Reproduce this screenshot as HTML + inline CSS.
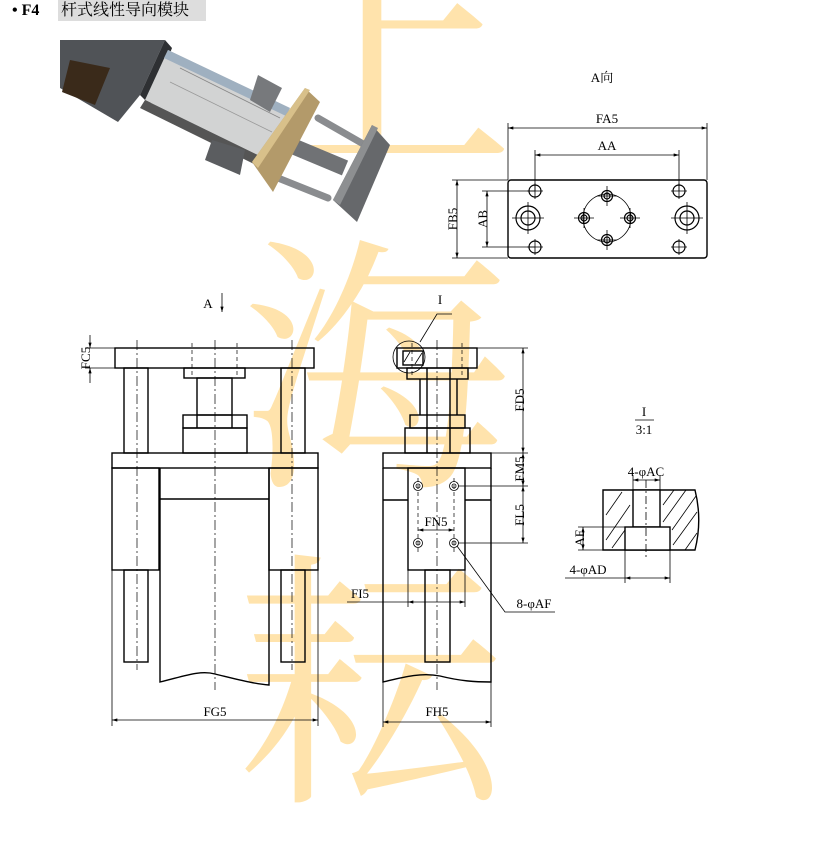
<!DOCTYPE html>
<html><head><meta charset="utf-8"><style>
html,body{margin:0;padding:0;background:#fff;width:836px;height:739px;overflow:hidden}
svg{position:absolute;left:0;top:0}
.wm{position:absolute;font-family:"Noto Serif CJK SC",serif;font-size:270px;line-height:270px;color:#ffdd98;opacity:.8}
</style></head><body>
<div class="wm" style="left:245px;top:-105px">上</div>
<div class="wm" style="left:240px;top:215px">海</div>
<div class="wm" style="left:235px;top:530px">耘</div>
<svg width="836" height="739" viewBox="0 0 836 739" font-family="Liberation Serif, 'Noto Serif CJK SC', serif">
<defs>
<marker id="a" viewBox="0 0 10 6" refX="10" refY="3" markerWidth="8" markerHeight="4" orient="auto-start-reverse"><path d="M0 0 L10 3 L0 6 Z" fill="#000"/></marker>
</defs>
<rect x="58" y="0" width="148" height="21" fill="#ddd"/>
<text x="12" y="15" font-size="16" font-weight="bold" fill="#000">• F4</text>
<text x="61" y="15" font-size="16" fill="#000" font-family="'Noto Serif CJK SC',serif">杆式线性导向模块</text>

<g>
<polygon points="60,40 165,40 140,95 118,122 60,88" fill="#505357"/>
<polygon points="70,60 110,68 95,105 62,92" fill="#3a2a1a"/>
<polygon points="165,40 172,48 150,105 140,95" fill="#2e3033"/>
<polygon points="168,50 290,108 268,160 145,100" fill="#d2d3d3"/>
<polygon points="168,50 290,108 286,116 164,58" fill="#9fb0c0"/>
<polygon points="145,100 268,160 262,168 140,108" fill="#555"/>
<line x1="180" y1="68" x2="280" y2="118" stroke="#888" stroke-width="0.8"/>
<line x1="170" y1="82" x2="272" y2="132" stroke="#999" stroke-width="0.8"/>
<polygon points="258,75 282,88 270,112 250,100" fill="#77797c"/>
<polygon points="212,140 245,150 240,175 205,160" fill="#5b5d60"/>
<line x1="318" y1="118" x2="365" y2="145" stroke="#8a8c8f" stroke-width="7" stroke-linecap="round"/>
<line x1="278" y1="178" x2="328" y2="198" stroke="#8a8c8f" stroke-width="7" stroke-linecap="round"/>
<line x1="290" y1="145" x2="345" y2="168" stroke="#707275" stroke-width="16"/>
<polygon points="305,88 320,102 273,192 252,162" fill="#b39a6a"/>
<polygon points="305,88 310,90 258,168 252,162" fill="#d8c08a"/>
<polygon points="372,125 390,145 357,222 333,200" fill="#66686b"/>
<polygon points="372,125 378,128 340,205 333,200" fill="#8d8f91"/>
</g>

<g stroke="#000" fill="none" stroke-width="1.4">
<rect x="508" y="180" width="199" height="78" rx="3"/>
<g stroke-width="0.8">
<line x1="508" y1="123" x2="508" y2="180"/><line x1="707" y1="123" x2="707" y2="180"/>
<line x1="508" y1="128" x2="707" y2="128" marker-start="url(#a)" marker-end="url(#a)"/>
<line x1="535" y1="150" x2="535" y2="191"/><line x1="679" y1="150" x2="679" y2="191"/>
<line x1="535" y1="155" x2="679" y2="155" marker-start="url(#a)" marker-end="url(#a)"/>
<line x1="452" y1="180" x2="508" y2="180"/><line x1="452" y1="258" x2="508" y2="258"/>
<line x1="457" y1="180" x2="457" y2="258" marker-start="url(#a)" marker-end="url(#a)"/>
<line x1="482" y1="191" x2="535" y2="191"/><line x1="482" y1="247" x2="535" y2="247"/>
<line x1="487" y1="191" x2="487" y2="247" marker-start="url(#a)" marker-end="url(#a)"/>
<circle cx="607" cy="218" r="24"/>
<path d="M527 191h16M535 183v16M527 247h16M535 239v16M671 191h16M679 183v16M671 247h16M679 239v16M512 218h32M528 202v32M671 218h32M687 202v32M597 196h20M607 186v20M597 240h20M607 230v20M574 218h20M584 208v20M620 218h20M630 208v20"/>
</g>
<g stroke-width="1.2">
<circle cx="535" cy="191" r="6"/><circle cx="535" cy="247" r="6"/><circle cx="679" cy="191" r="6"/><circle cx="679" cy="247" r="6"/>
<circle cx="528" cy="218" r="12"/><circle cx="528" cy="218" r="7"/>
<circle cx="687" cy="218" r="12"/><circle cx="687" cy="218" r="7"/>
<circle cx="607" cy="196" r="5.5"/><circle cx="607" cy="196" r="3"/>
<circle cx="607" cy="240" r="5.5"/><circle cx="607" cy="240" r="3"/>
<circle cx="584" cy="218" r="5.5"/><circle cx="584" cy="218" r="3"/>
<circle cx="630" cy="218" r="5.5"/><circle cx="630" cy="218" r="3"/>
</g>

<rect x="115" y="348" width="199" height="20"/>
<rect x="124" y="368" width="24" height="85"/><rect x="281" y="368" width="24" height="85"/>
<rect x="184" y="368" width="61" height="10"/>
<rect x="197" y="378" width="35" height="37"/>
<rect x="183" y="415" width="64" height="13"/>
<line x1="197" y1="415" x2="197" y2="428"/><line x1="232" y1="415" x2="232" y2="428"/>
<rect x="183" y="428" width="64" height="25"/>
<rect x="112" y="453" width="206" height="15"/>
<rect x="112" y="468" width="47" height="102"/><rect x="269" y="468" width="49" height="102"/>
<path d="M160 468 V682 C185 676 200 670 215 674 C240 680 255 684 269 685 V468"/>
<line x1="160" y1="499" x2="269" y2="499"/>
<rect x="124" y="570" width="24" height="92"/><rect x="281" y="570" width="24" height="92"/>
<g stroke-width="0.7" stroke-dasharray="10,3,2,3">
<line x1="137" y1="340" x2="137" y2="670"/><line x1="215" y1="340" x2="215" y2="690"/><line x1="292" y1="340" x2="292" y2="670"/>
</g>
<g stroke-width="0.7" stroke-dasharray="4,3">
<line x1="192" y1="343" x2="192" y2="378"/><line x1="237" y1="343" x2="237" y2="378"/>
</g>
<g stroke-width="0.8">
<line x1="85" y1="348" x2="115" y2="348"/><line x1="85" y1="368" x2="115" y2="368"/>
<line x1="90" y1="335" x2="90" y2="348" marker-end="url(#a)"/><line x1="90" y1="383" x2="90" y2="368" marker-end="url(#a)"/>
<line x1="112" y1="570" x2="112" y2="726"/><line x1="318" y1="570" x2="318" y2="726"/>
<line x1="112" y1="720" x2="318" y2="720" marker-start="url(#a)" marker-end="url(#a)"/>
<line x1="222" y1="293" x2="222" y2="312" marker-end="url(#a)"/>
</g>

<rect x="397" y="348" width="80" height="20"/>
<rect x="407" y="368" width="61" height="11"/>
<line x1="420" y1="379" x2="420" y2="415"/><line x1="427" y1="368" x2="427" y2="453"/>
<line x1="450" y1="368" x2="450" y2="453"/><line x1="457" y1="379" x2="457" y2="415"/>
<rect x="410" y="415" width="55" height="13"/>
<rect x="405" y="428" width="65" height="25"/>
<rect x="383" y="453" width="108" height="15"/>
<path d="M383 468 V682 C400 678 420 672 440 676 C460 681 475 682 491 682 V468"/>
<rect x="408" y="468" width="57" height="102"/>
<line x1="383" y1="500" x2="408" y2="500"/><line x1="465" y1="500" x2="491" y2="500"/>
<rect x="425" y="570" width="25" height="92"/>
<rect x="403" y="351" width="20" height="14" fill="#fff"/>
<g stroke-width="0.8">
<line x1="404" y1="362" x2="410" y2="352"/><line x1="415" y1="364" x2="422" y2="353"/>
<circle cx="409" cy="357" r="16"/>
<polyline points="420,342 437,314 452,314"/>
<circle cx="418" cy="486" r="4.5"/><circle cx="418" cy="486" r="2"/>
<circle cx="454" cy="486" r="4.5"/><circle cx="454" cy="486" r="2"/>
<circle cx="418" cy="543" r="4.5"/><circle cx="418" cy="543" r="2"/>
<circle cx="454" cy="543" r="4.5"/><circle cx="454" cy="543" r="2"/>
<line x1="477" y1="348" x2="528" y2="348"/><line x1="491" y1="453" x2="528" y2="453"/>
<line x1="458" y1="486" x2="528" y2="486"/><line x1="458" y1="543" x2="528" y2="543"/>
<line x1="523" y1="348" x2="523" y2="453" marker-start="url(#a)" marker-end="url(#a)"/>
<line x1="523" y1="453" x2="523" y2="486" marker-start="url(#a)" marker-end="url(#a)"/>
<line x1="523" y1="486" x2="523" y2="543" marker-start="url(#a)" marker-end="url(#a)"/>
<line x1="418" y1="530" x2="454" y2="530" marker-start="url(#a)" marker-end="url(#a)"/>
<line x1="408" y1="570" x2="408" y2="607"/><line x1="465" y1="570" x2="465" y2="607"/>
<line x1="347" y1="602" x2="408" y2="602"/>
<line x1="408" y1="602" x2="465" y2="602" marker-start="url(#a)" marker-end="url(#a)"/>
<polyline points="457,546 505,612 555,612"/>
<line x1="383" y1="682" x2="383" y2="727"/><line x1="491" y1="682" x2="491" y2="727"/>
<line x1="383" y1="722" x2="491" y2="722" marker-start="url(#a)" marker-end="url(#a)"/>
</g>
<g stroke-width="0.7" stroke-dasharray="10,3,2,3">
<line x1="437" y1="340" x2="437" y2="690"/>
</g>
<g stroke-width="0.7" stroke-dasharray="4,3">
<line x1="418" y1="478" x2="418" y2="552"/><line x1="454" y1="478" x2="454" y2="552"/>
<line x1="412" y1="343" x2="412" y2="378"/><line x1="462" y1="343" x2="462" y2="378"/>
</g>

<line x1="635" y1="420" x2="654" y2="420" stroke-width="0.8"/>
<path d="M603 490 H695 C700 510 700 530 695 550 H603 Z"/>
<rect x="633" y="490" width="27" height="37" fill="#fff"/>
<rect x="625" y="527" width="45" height="23" fill="#fff"/>
<g stroke-width="0.8">
<line x1="606" y1="515" x2="622" y2="492"/><line x1="606" y1="540" x2="630" y2="505"/><line x1="612" y1="548" x2="625" y2="530"/>
<line x1="663" y1="505" x2="674" y2="490"/><line x1="663" y1="522" x2="686" y2="490"/><line x1="672" y1="530" x2="696" y2="496"/><line x1="673" y1="545" x2="697" y2="512"/><line x1="685" y1="550" x2="697" y2="533"/>
<line x1="633" y1="475" x2="633" y2="490"/><line x1="660" y1="475" x2="660" y2="490"/>
<line x1="633" y1="480" x2="660" y2="480" marker-start="url(#a)" marker-end="url(#a)"/>
<line x1="578" y1="527" x2="625" y2="527"/><line x1="578" y1="550" x2="603" y2="550"/>
<line x1="583" y1="527" x2="583" y2="550" marker-start="url(#a)" marker-end="url(#a)"/>
<line x1="625" y1="550" x2="625" y2="583"/><line x1="670" y1="550" x2="670" y2="583"/>
<line x1="565" y1="578" x2="625" y2="578"/>
<line x1="625" y1="578" x2="670" y2="578" marker-start="url(#a)" marker-end="url(#a)"/>
<line x1="646" y1="480" x2="646" y2="560" stroke-dasharray="8,3,2,3"/>
</g>
</g>

<g font-size="13" fill="#000" text-anchor="middle">
<text x="602" y="82">A<tspan font-family="'Noto Serif CJK SC',serif">向</tspan></text>
<text x="607" y="123">FA5</text>
<text x="607" y="150">AA</text>
<text x="453" y="223" transform="rotate(-90 453 219)">FB5</text>
<text x="483" y="223" transform="rotate(-90 483 219)">AB</text>
<text x="208" y="308">A</text>
<text x="86" y="362" transform="rotate(-90 86 358)">FC5</text>
<text x="215" y="716">FG5</text>
<text x="440" y="304">I</text>
<text x="520" y="404" transform="rotate(-90 520 400)">FD5</text>
<text x="520" y="473" transform="rotate(-90 520 469)">FM5</text>
<text x="520" y="519" transform="rotate(-90 520 515)">FL5</text>
<text x="436" y="526">FN5</text>
<text x="360" y="598">FI5</text>
<text x="534" y="608">8-φAF</text>
<text x="437" y="716">FH5</text>
<text x="644" y="416">I</text>
<text x="644" y="434">3:1</text>
<text x="646" y="476">4-φAC</text>
<text x="580" y="542" transform="rotate(-90 580 538)">AE</text>
<text x="588" y="574">4-φAD</text>
</g>
</svg>
</body></html>
